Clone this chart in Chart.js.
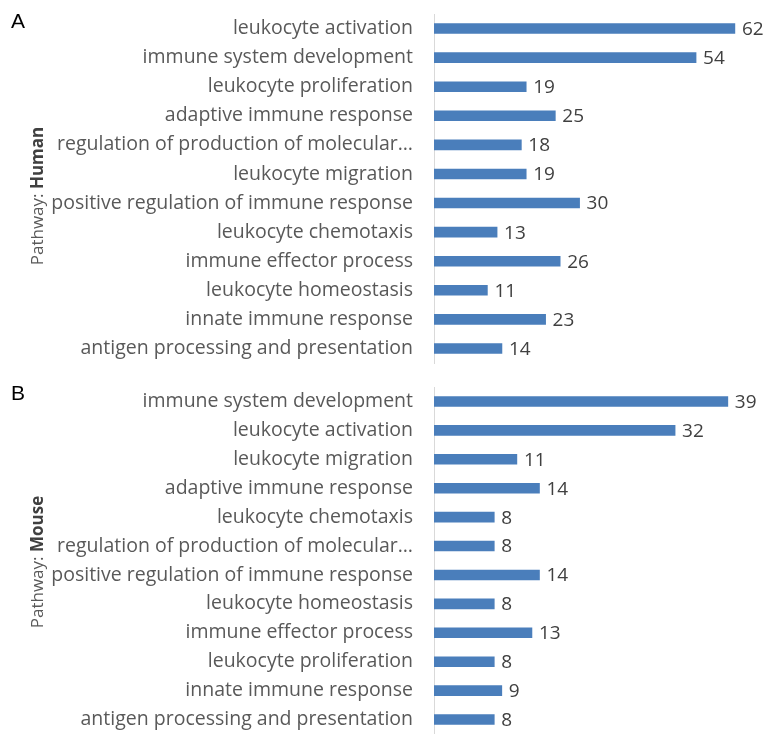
<!DOCTYPE html>
<html>
<head>
<meta charset="utf-8">
<script src="https://cdn.jsdelivr.net/npm/chart.js@4.4.0/dist/chart.umd.min.js"></script>
<style>
  html, body { margin: 0; padding: 0; background: #ffffff; }
  body { width: 766px; height: 734px; position: relative; overflow: hidden; font-family: "Open Sans", sans-serif; }
  .panel { position: absolute; left: 0; width: 766px; height: 367px; }
  .letter { position: absolute; left: 11px; font-family: "Liberation Sans", Arial, sans-serif; font-size: 21px; line-height: 21px; color: #000; }
  .ytitle { position: absolute; white-space: nowrap; font-size: 17px; color: #595959; transform: translate(-50%, -50%) rotate(-90deg); }
  .ytitle b { color: #404040; }
</style>
</head>
<body>
<div class="panel" style="top:0"><canvas id="chartA" width="766" height="367"></canvas></div>
<div class="panel" style="top:367px"><canvas id="chartB" width="766" height="367"></canvas></div>
<div class="letter" style="top:10px">A</div>
<div class="letter" style="top:382px">B</div>
<div class="ytitle" style="left:36px; top:196px">Pathway: <b>Human</b></div>
<div class="ytitle" style="left:36px; top:562px">Pathway: <b>Mouse</b></div>
<script>
const humanCategories = [
  "leukocyte activation",
  "immune system development",
  "leukocyte proliferation",
  "adaptive immune response",
  "regulation of production of molecular\u2026",
  "leukocyte migration",
  "positive regulation of immune response",
  "leukocyte chemotaxis",
  "immune effector process",
  "leukocyte homeostasis",
  "innate immune response",
  "antigen processing and presentation"
];
const humanValues = [62, 54, 19, 25, 18, 19, 30, 13, 26, 11, 23, 14];

const mouseCategories = [
  "immune system development",
  "leukocyte activation",
  "leukocyte migration",
  "adaptive immune response",
  "leukocyte chemotaxis",
  "regulation of production of molecular\u2026",
  "positive regulation of immune response",
  "leukocyte homeostasis",
  "immune effector process",
  "leukocyte proliferation",
  "innate immune response",
  "antigen processing and presentation"
];
const mouseValues = [39, 32, 11, 14, 8, 8, 14, 8, 13, 8, 9, 8];

const FONT = "'Open Sans', sans-serif";

const valueLabels = {
  id: 'valueLabels',
  afterDatasetsDraw(chart) {
    const ctx = chart.ctx;
    ctx.save();
    ctx.font = "19px " + FONT;
    ctx.fillStyle = '#404040';
    ctx.textAlign = 'left';
    ctx.textBaseline = 'middle';
    chart.data.datasets.forEach((ds, di) => {
      const meta = chart.getDatasetMeta(di);
      meta.data.forEach((bar, i) => {
        ctx.fillText(String(ds.data[i]), bar.x + 7, bar.y + 1);
      });
    });
    ctx.restore();
  }
};

function makeChart(id, cats, vals, xmax, padTop, padBottom) {
  return new Chart(document.getElementById(id), {
    type: 'bar',
    data: {
      labels: cats,
      datasets: [{
        data: vals,
        backgroundColor: '#4a7ebb',
        borderWidth: 0,
        barThickness: 10
      }]
    },
    options: {
      indexAxis: 'y',
      responsive: false,
      animation: false,
      devicePixelRatio: 1,
      layout: { padding: { left: 0, right: 2, top: padTop, bottom: padBottom } },
      plugins: { legend: { display: false }, tooltip: { enabled: false } },
      scales: {
        x: { display: false, min: 0, max: xmax },
        y: {
          afterFit(scale) {
            scale.width = 434;
            scale.paddingTop = 0;
            scale.paddingBottom = 0;
          },
          grid: { display: false, drawTicks: false },
          border: { display: true, color: '#d9d9d9', width: 1 },
          ticks: { padding: 21, color: '#595959', font: { family: FONT, size: 19.5 }, autoSkip: false }
        }
      }
    },
    plugins: [valueLabels]
  });
}

makeChart('chartA', humanCategories, humanValues, 68, 14, 4);
makeChart('chartB', mouseCategories, mouseValues, 43.8, 20, 0);
</script>
</body>
</html>
